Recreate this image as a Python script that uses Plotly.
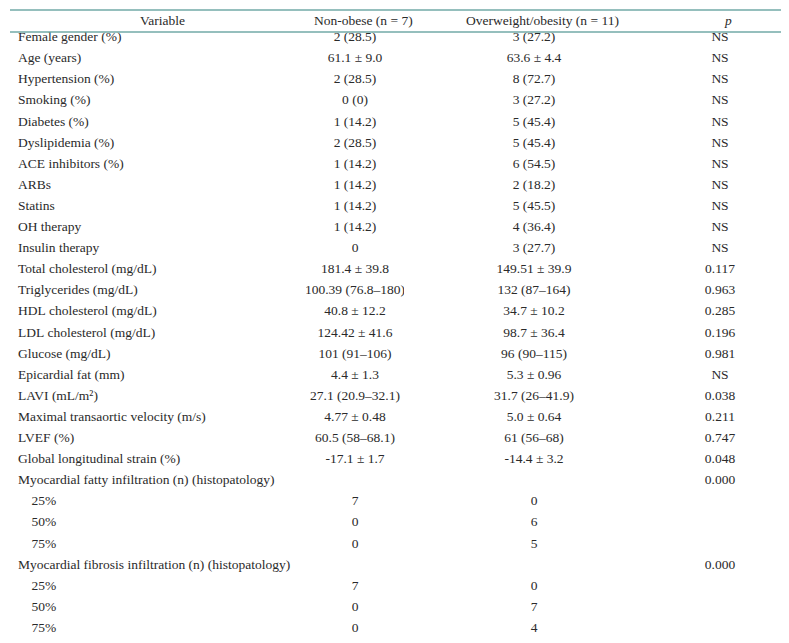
import plotly.graph_objects as go

headers = ["Variable", "Non-obese (n = 7)", "Overweight/obesity (n = 11)", "<i>p</i>"]

variables = [
    "Female gender (%)", "Age (years)", "Hypertension (%)", "Smoking (%)", "Diabetes (%)",
    "Dyslipidemia (%)", "ACE inhibitors (%)", "ARBs", "Statins", "OH therapy", "Insulin therapy",
    "Total cholesterol (mg/dL)", "Triglycerides (mg/dL)", "HDL cholesterol (mg/dL)",
    "LDL cholesterol (mg/dL)", "Glucose (mg/dL)", "Epicardial fat (mm)", "LAVI (mL/m²)",
    "Maximal transaortic velocity (m/s)", "LVEF (%)", "Global longitudinal strain (%)",
    "Myocardial fatty infiltration (n) (histopatology)", "    25%", "    50%", "    75%",
    "Myocardial fibrosis infiltration (n) (histopatology)", "    25%", "    50%", "    75%",
]

non_obese = [
    "2 (28.5)", "61.1 ± 9.0", "2 (28.5)", "0 (0)", "1 (14.2)", "2 (28.5)", "1 (14.2)",
    "1 (14.2)", "1 (14.2)", "1 (14.2)", "0", "181.4 ± 39.8", "100.39 (76.8–180)",
    "40.8 ± 12.2", "124.42 ± 41.6", "101 (91–106)", "4.4 ± 1.3", "27.1 (20.9–32.1)",
    "4.77 ± 0.48", "60.5 (58–68.1)", "-17.1 ± 1.7", "", "7", "0", "0", "", "7", "0", "0",
]

overweight = [
    "3 (27.2)", "63.6 ± 4.4", "8 (72.7)", "3 (27.2)", "5 (45.4)", "5 (45.4)", "6 (54.5)",
    "2 (18.2)", "5 (45.5)", "4 (36.4)", "3 (27.7)", "149.51 ± 39.9", "132 (87–164)",
    "34.7 ± 10.2", "98.7 ± 36.4", "96 (90–115)", "5.3 ± 0.96", "31.7 (26–41.9)",
    "5.0 ± 0.64", "61 (56–68)", "-14.4 ± 3.2", "", "0", "6", "5", "", "0", "7", "4",
]

p_values = [
    "NS", "NS", "NS", "NS", "NS", "NS", "NS", "NS", "NS", "NS", "NS",
    "0.117", "0.963", "0.285", "0.196", "0.981", "NS", "0.038", "0.211", "0.747", "0.048",
    "0.000", "", "", "", "0.000", "", "", "",
]

spacer = [""] * len(variables)


def nb(lst):
    return [s.replace(" ", "\u00a0") for s in lst]


W, H = 789, 643
TEAL = "#72aaa7"
TXT = "#2a2a2a"
FONT = "Liberation Serif"
FS = 13.5
ROW_H = 21.1

cols = [nb(variables), nb(non_obese), nb(overweight), nb(p_values), spacer]
aligns = ["left", "center", "center", "center", "center"]

fig = go.Figure(go.Table(
    domain=dict(x=[2 / W, 787 / W], y=[0, 1 - 15 / H]),
    columnwidth=[296, 98, 260, 112, 19],
    # first data row rendered in the header slot so rows start right under the rule
    header=dict(
        values=[c[0] for c in cols],
        align=aligns,
        fill_color="white",
        line=dict(color="white", width=0),
        font=dict(family=FONT, size=FS, color=TXT),
        height=ROW_H,
    ),
    cells=dict(
        values=[c[1:] for c in cols],
        align=aligns,
        fill_color="white",
        line=dict(color="white", width=0),
        font=dict(family=FONT, size=FS, color=TXT),
        height=ROW_H,
    ),
))

header_x = [154, 355, 534, 720]
for hx, ht in zip(header_x, headers):
    fig.add_annotation(x=hx / W, y=1 - 13 / H, xref="paper", yref="paper",
                       text=ht.replace(" ", "\u00a0"), showarrow=False,
                       xanchor="center", yanchor="middle",
                       font=dict(family=FONT, size=FS, color=TXT))

for ypx in [2, 24, 640]:
    fig.add_shape(type="line", xref="paper", yref="paper",
                  x0=2 / W, x1=787 / W, y0=1 - ypx / H, y1=1 - ypx / H,
                  line=dict(color=TEAL, width=1.6))

fig.update_layout(width=W, height=H, margin=dict(l=0, r=0, t=0, b=0),
                  paper_bgcolor="white", plot_bgcolor="white")

fig.write_html("out.html")
